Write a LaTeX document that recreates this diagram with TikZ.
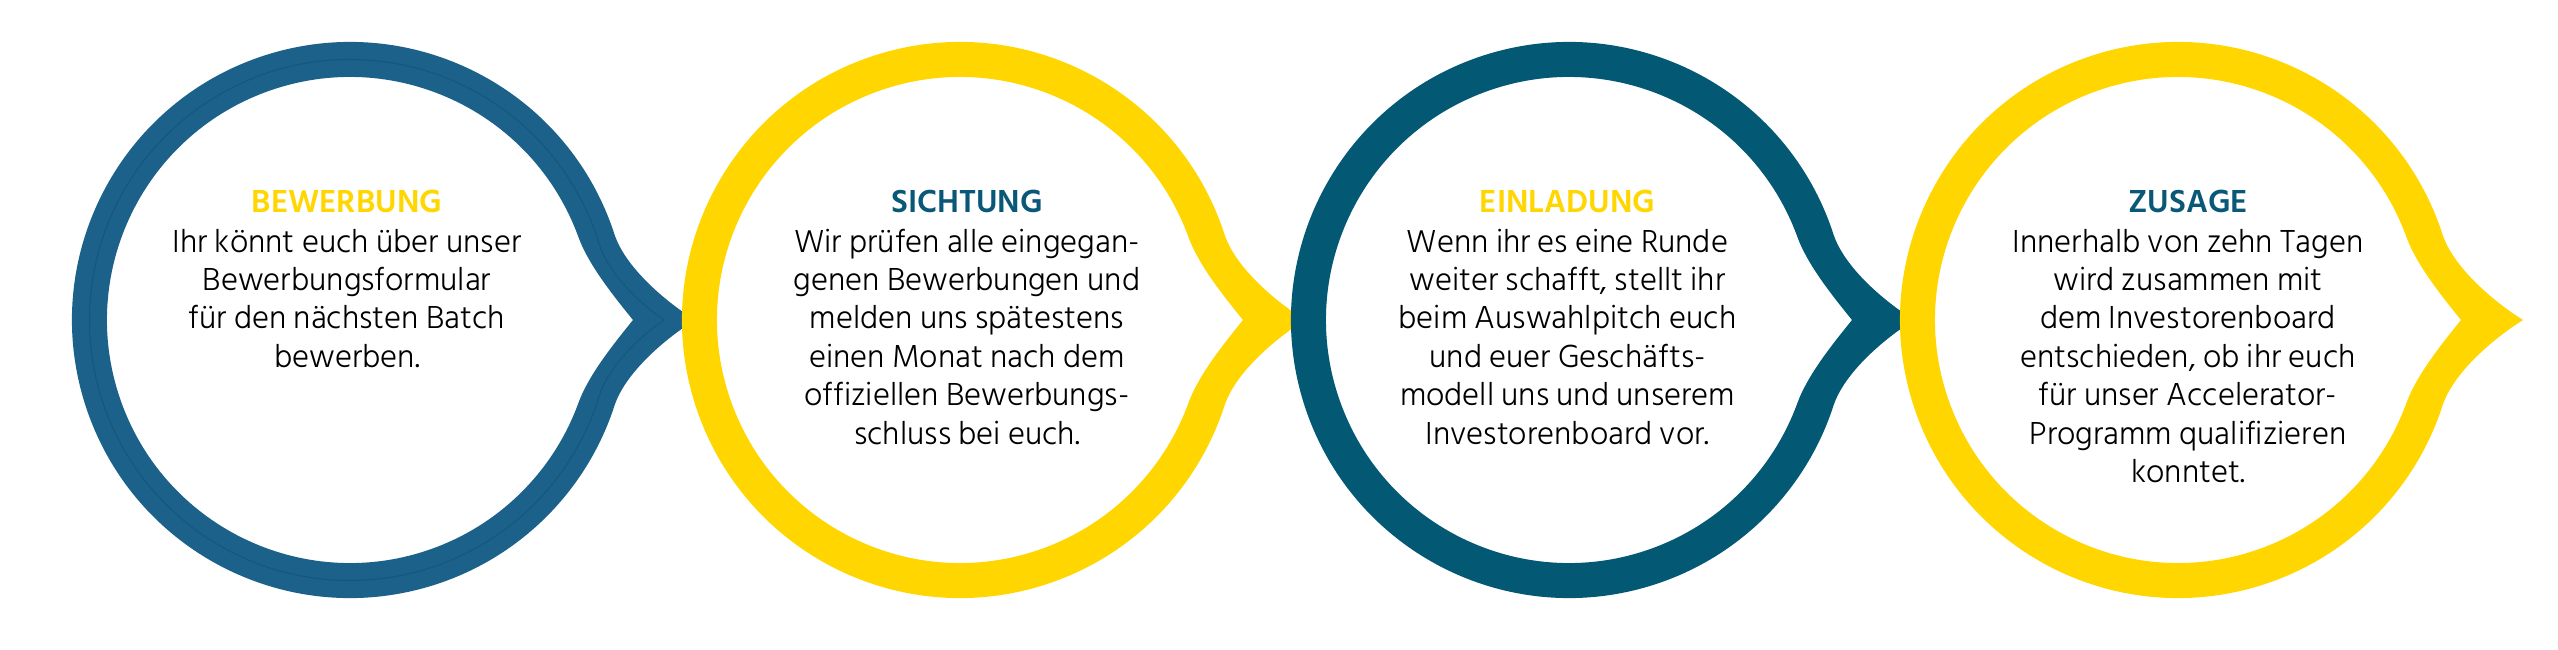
\documentclass[tikz,border=0pt]{standalone}
\usepackage{fontspec}
\IfFontExistsTF{Hind Siliguri Light}
  {\setmainfont{Hind Siliguri Light}}
  {\setmainfont{Hind Siliguri}}
\IfFontExistsTF{Hind Siliguri SemiBold}
  {\newfontfamily\titlefont{Hind Siliguri SemiBold}}
  {\newfontfamily\titlefont{Hind Siliguri}[FakeBold=2]}
\definecolor{ringblue}{HTML}{1C6189}
\definecolor{ringline}{HTML}{15577C}
\definecolor{ringteal}{HTML}{035874}
\definecolor{titleteal}{HTML}{0A5878}
\definecolor{ringyellow}{HTML}{FFD600}
\tikzset{
  pics/bubble/.style={code={
    \path[pic actions, even odd rule]
      (18:2.78) arc[start angle=18, end angle=342, radius=2.78]
      .. controls (2.752,-0.526) and (3.153,-0.186) .. (3.45,0)
      .. controls (3.153,0.186) and (2.752,0.526) .. (18:2.78) -- cycle
      (20:2.43) arc[start angle=20, end angle=340, radius=2.43]
      .. controls (2.386,-0.549) and (2.641,-0.233) .. (2.83,0)
      .. controls (2.641,0.233) and (2.386,0.549) .. (20:2.43) -- cycle;
  }},
  pics/midline/.style={code={
    \path[pic actions] (85:2.605) arc[start angle=85, end angle=343, radius=2.605]
      .. controls (2.579,-0.475) and (2.891,-0.168) .. (3.14,0)
      .. controls (2.891,0.168) and (2.579,0.475) .. (17:2.605)
      arc[start angle=17, end angle=95, radius=2.605];
  }},
  ttl/.style={anchor=base, inner sep=0pt, font=\titlefont\fontsize{9.3pt}{10pt}\selectfont},
  bodytext/.style={anchor=base, inner sep=0pt, font=\fontsize{9.3pt}{10.93pt}\selectfont},
}
\newcommand{\bodybox}[1]{\parbox[t]{4.6cm}{\centering #1}}
\begin{document}
\begin{tikzpicture}
\useasboundingbox (0,0) rectangle (25.58,6.49);
\fill[white] (0,0) rectangle (25.58,6.49);
% rings
\pic[fill=ringblue] at (3.50,3.29) {bubble};
\pic[draw=ringline, line width=0.3pt, line join=miter] at (3.50,3.29) {midline};
\pic[fill=ringyellow] at (9.60,3.29) {bubble};
\pic[fill=ringteal] at (15.69,3.29) {bubble};
\pic[fill=ringyellow] at (21.78,3.29) {bubble};
% texts
\node[ttl, text=ringyellow] (t1) at (3.47,4.37) {BEWERBUNG};
\node[bodytext] (b1) at (3.47,3.97) {\bodybox{Ihr könnt euch über unser\\ Bewerbungsformular\\ für den nächsten Batch\\ bewerben.}};
\node[ttl, text=titleteal] (t2) at (9.67,4.37) {SICHTUNG};
\node[bodytext] (b2) at (9.67,3.97) {\bodybox{Wir prüfen alle eingegan-\\ genen Bewerbungen und\\ melden uns spätestens\\ einen Monat nach dem\\ offiziellen Bewerbungs-\\ schluss bei euch.}};
\node[ttl, text=ringyellow] (t3) at (15.675,4.37) {EINLADUNG};
\node[bodytext] (b3) at (15.675,3.97) {\bodybox{Wenn ihr es eine Runde\\ weiter schafft, stellt ihr\\ beim Auswahlpitch euch\\ und euer Geschäfts-\\ modell uns und unserem\\ Investorenboard vor.}};
\node[ttl, text=titleteal] (t4) at (21.88,4.37) {ZUSAGE};
\node[bodytext] (b4) at (21.88,3.97) {\bodybox{Innerhalb von zehn Tagen\\ wird zusammen mit\\ dem Investorenboard\\ entschieden, ob ihr euch\\ für unser Accelerator-\\ Programm qualifizieren\\ konntet.}};
\end{tikzpicture}
\end{document}
